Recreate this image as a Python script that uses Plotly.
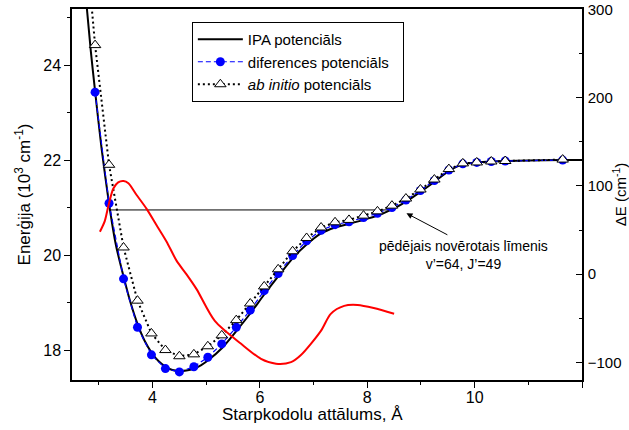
import plotly.graph_objects as go

# IPA potential (solid black curve)
r_ipa = [2.76, 2.85, 2.93, 3.05, 3.19, 3.32, 3.46, 3.59, 3.72, 3.85, 3.98, 4.11, 4.24, 4.37, 4.50,
         4.63, 4.77, 4.90, 5.03, 5.30, 5.56, 5.82, 6.08, 6.34, 6.60, 6.87, 7.13, 7.40, 7.67, 7.93,
         8.19, 8.46, 8.73, 8.99, 9.26, 9.52, 9.78, 10.04, 10.31, 10.57, 11.0, 11.64, 12.0]
e_ipa = [25.40, 24.30, 23.45, 22.25, 21.08, 20.20, 19.55, 19.00, 18.55, 18.20, 17.95, 17.77, 17.65, 17.58, 17.56,
         17.57, 17.61, 17.68, 17.78, 18.05, 18.40, 18.77, 19.17, 19.55, 19.92, 20.22, 20.45, 20.58, 20.66, 20.74,
         20.83, 20.96, 21.13, 21.33, 21.55, 21.77, 21.91, 21.95, 21.97, 21.98, 21.99, 22.00, 22.00]

# difference potential (blue circles)
r_pts = [2.93, 3.19, 3.46, 3.72, 3.98, 4.24, 4.50, 4.77, 5.03, 5.29, 5.56, 5.82, 6.08, 6.34, 6.61, 6.87,
         7.14, 7.40, 7.66, 7.93, 8.19, 8.46, 8.72, 8.99, 9.25, 9.52, 9.78, 10.04, 10.31, 10.57, 11.64]
e_diff = [23.43, 21.09, 19.50, 18.48, 17.90, 17.61, 17.54, 17.65, 17.85, 18.13, 18.48, 18.84, 19.25, 19.61, 19.99, 20.30,
          20.52, 20.64, 20.70, 20.79, 20.88, 21.00, 21.16, 21.36, 21.57, 21.79, 21.92, 21.95, 21.97, 21.98, 22.00]

# ab initio potential (open triangles)
e_ab = [24.42, 21.90, 20.16, 19.04, 18.35, 18.00, 17.87, 17.91, 18.08, 18.31, 18.63, 18.98, 19.34, 19.70, 20.08, 20.36,
        20.58, 20.69, 20.74, 20.83, 20.92, 21.04, 21.19, 21.38, 21.59, 21.81, 21.93, 21.95, 21.97, 21.98, 22.01]
r_ab_top = [2.85, 2.93]
e_ab_top = [25.44, 24.42]

# Delta E (red curve, right axis)
r_de = [3.02, 3.11, 3.18, 3.27, 3.36, 3.46, 3.55, 3.70, 3.89, 4.07, 4.26, 4.45, 4.63, 4.82, 5.16,
        5.65, 6.02, 6.30, 6.58, 6.76, 7.14, 7.32, 7.57, 7.82, 8.12, 8.50]
de = [48, 60, 78, 97, 104, 105.5, 103, 90, 74, 56, 37, 15, 0, -17, -53,
      -79, -96, -101.5, -99.7, -92, -64, -45, -36, -35, -38.5, -45]

# axis ticks
x_tickvals = [4, 6, 8, 10, 12]
x_ticktext = ["4", "6", "8", "10", ""]
y_tickvals = [18, 20, 22, 24]
y2_tickvals = [-100, 0, 100, 200, 300]

# last observed level
r_level = [3.19, 8.46]
e_level = [20.95, 20.95]
level_point = (8.73, 20.88)
arrow_tail = (9.52, 20.41)
label_pos = (9.79, 20.01)

FONT = "Liberation Sans, Arial, sans-serif"

fig = go.Figure()
fig.add_trace(go.Scatter(x=r_level, y=e_level, mode="lines",
                         line=dict(color="black", width=1), showlegend=False, hoverinfo="skip"))
fig.add_trace(go.Scatter(x=r_ab_top, y=e_ab_top, mode="lines",
                         line=dict(color="black", width=2, dash="2px,3px"), showlegend=False))
fig.add_trace(go.Scatter(x=r_ipa, y=e_ipa, mode="lines", name="IPA potenciāls",
                         line=dict(color="black", width=2, shape="spline", smoothing=0.6)))
fig.add_trace(go.Scatter(x=r_pts, y=e_diff, mode="lines+markers", name="diferences potenciāls\u00a0\u00a0",
                         line=dict(color="#0000ff", width=1.2, dash="5px,3px"),
                         marker=dict(symbol="circle", size=9, color="#0000ff")))
fig.add_trace(go.Scatter(x=r_pts, y=e_ab, mode="lines+markers", name="<i>ab initio</i> potenciāls",
                         line=dict(color="black", width=2, dash="2px,3px"),
                         marker=dict(symbol="triangle-up", size=10, color="white",
                                     line=dict(color="black", width=1))))
fig.add_trace(go.Scatter(x=r_de, y=de, mode="lines", yaxis="y2", showlegend=False,
                         line=dict(color="#ff0000", width=2, shape="spline", smoothing=0.8)))

fig.add_annotation(x=level_point[0], y=level_point[1], ax=arrow_tail[0], ay=arrow_tail[1],
                   xref="x", yref="y", axref="x", ayref="y", text="", showarrow=True,
                   arrowhead=2, arrowsize=1.2, arrowwidth=1, arrowcolor="black")
fig.add_annotation(x=label_pos[0], y=label_pos[1], xref="x", yref="y", showarrow=False,
                   text="pēdējais novērotais līmenis<br>v’=64, J’=49", align="center",
                   font=dict(size=14, color="black", family=FONT))
# x-axis title
fig.add_annotation(x=0.4716, y=0, xref="paper", yref="paper", yshift=-34, yanchor="middle",
                   showarrow=False, text="Starpkodolu attālums, Å",
                   font=dict(size=17, color="black", family=FONT))

axis_common = dict(showline=True, linecolor="black", linewidth=1.5, ticklen=6,
                   tickwidth=1.2, tickcolor="black", showgrid=False, zeroline=False, automargin=False)

fig.update_layout(
    width=629, height=430, autosize=False,
    margin=dict(l=72, r=47, t=9, b=50),
    paper_bgcolor="white", plot_bgcolor="white",
    font=dict(family=FONT, color="black"),
    xaxis=dict(range=[2.5, 12], tickmode="array", tickvals=x_tickvals, ticktext=x_ticktext,
               ticks="outside", mirror=True, ticklabelstandoff=-4,
               tickfont=dict(size=16, color="black", family=FONT),
               minor=dict(dtick=1, tick0=0, ticks="outside", ticklen=3, tickcolor="black"),
               **axis_common),
    yaxis=dict(range=[17.37, 25.18], tickmode="array", tickvals=y_tickvals, ticks="outside", mirror=True,
               tickfont=dict(size=16, color="black", family=FONT),
               minor=dict(dtick=1, tick0=0, ticks="outside", ticklen=3, tickcolor="black"),
               title=dict(text="Enerģija (10<sup>3</sup> cm<sup>-1</sup>)", font=dict(size=17), standoff=8),
               **axis_common),
    yaxis2=dict(range=[-120, 300.5], tickmode="array", tickvals=y2_tickvals, overlaying="y", side="right",
                ticks="inside", ticklabelstandoff=1, ticklabeloverflow="allow",
                tickfont=dict(size=15, color="black", family=FONT),
                minor=dict(dtick=50, tick0=0, ticks="inside", ticklen=3, tickcolor="black"),
                title=dict(text="ΔE (cm<sup>-1</sup>)", font=dict(size=15), standoff=1),
                **axis_common),
    legend=dict(x=0.235, y=0.965, xanchor="left", yanchor="top", bgcolor="white",
                bordercolor="black", borderwidth=1, font=dict(size=15, color="black", family=FONT),
                tracegroupgap=0, itemwidth=45),
)

fig.write_html("out.html")
